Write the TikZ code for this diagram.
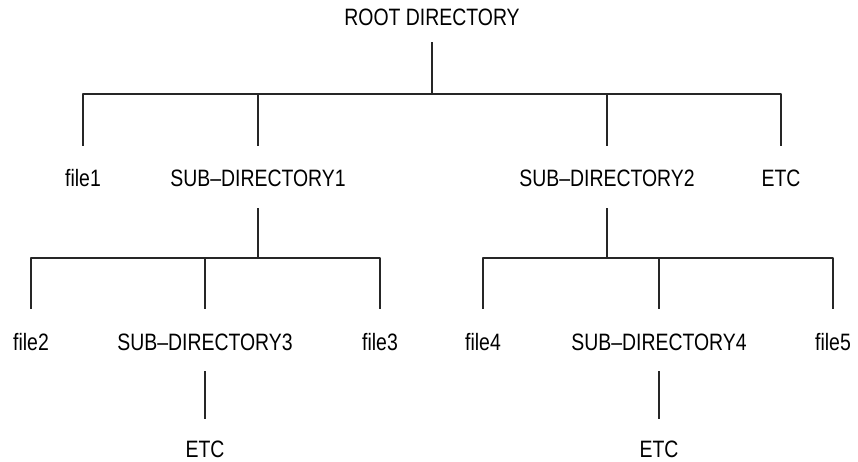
\documentclass[tikz,border=0pt]{standalone}
\usepackage{fontspec}
\setmainfont{Liberation Sans}[FakeStretch=0.82]
\begin{document}
\begin{tikzpicture}[x=1pt,y=-1pt,line join=round,font=\fontsize{23.7}{28}\selectfont]
    \tikzset{entry/.style={anchor=base,inner xsep=0pt,inner ysep=21pt,text height=20pt,text depth=0pt}}
    \tikzset{branch/.style={line width=1.2pt,black!85}}
    \useasboundingbox (0,0) rectangle (858,462);
    \def \barone{94}
    \def \bartwo{258}
    % top level
    \node[entry,inner ysep=16pt] (root) at (432,26) {ROOT DIRECTORY};
    \node[entry] (file1) at (83,187) {file1};
    \node[entry] (sub1) at (258,187) {SUB--DIRECTORY1};
    \node[entry] (sub2) at (607,187) {SUB--DIRECTORY2};
    \node[entry] (etc0) at (781,187) {ETC};
    % second level
    \node[entry] (file2) at (31,350) {file2};
    \node[entry] (sub3) at (205,350) {SUB--DIRECTORY3};
    \node[entry] (file3) at (380,350) {file3};
    \node[entry] (file4) at (483,350) {file4};
    \node[entry] (sub4) at (659,350) {SUB--DIRECTORY4};
    \node[entry] (file5) at (833,350) {file5};
    % third level
    \node[entry,inner ysep=18pt] (etc3) at (205,457) {ETC};
    \node[entry,inner ysep=18pt] (etc4) at (659,457) {ETC};
    \coordinate (b1) at (0,\barone);
    \coordinate (b2) at (0,\bartwo);
    \foreach \c in {file1,sub1,sub2,etc0}
        \draw[branch] (root.south) -- (root.south |- b1) -| (\c.north);
    \foreach \c in {file2,sub3,file3}
        \draw[branch] (sub1.south) -- (sub1.south |- b2) -| (\c.north);
    \foreach \c in {file4,sub4,file5}
        \draw[branch] (sub2.south) -- (sub2.south |- b2) -| (\c.north);
    \draw[branch] (sub3.south) -- (etc3.north);
    \draw[branch] (sub4.south) -- (etc4.north);
\end{tikzpicture}
\end{document}
